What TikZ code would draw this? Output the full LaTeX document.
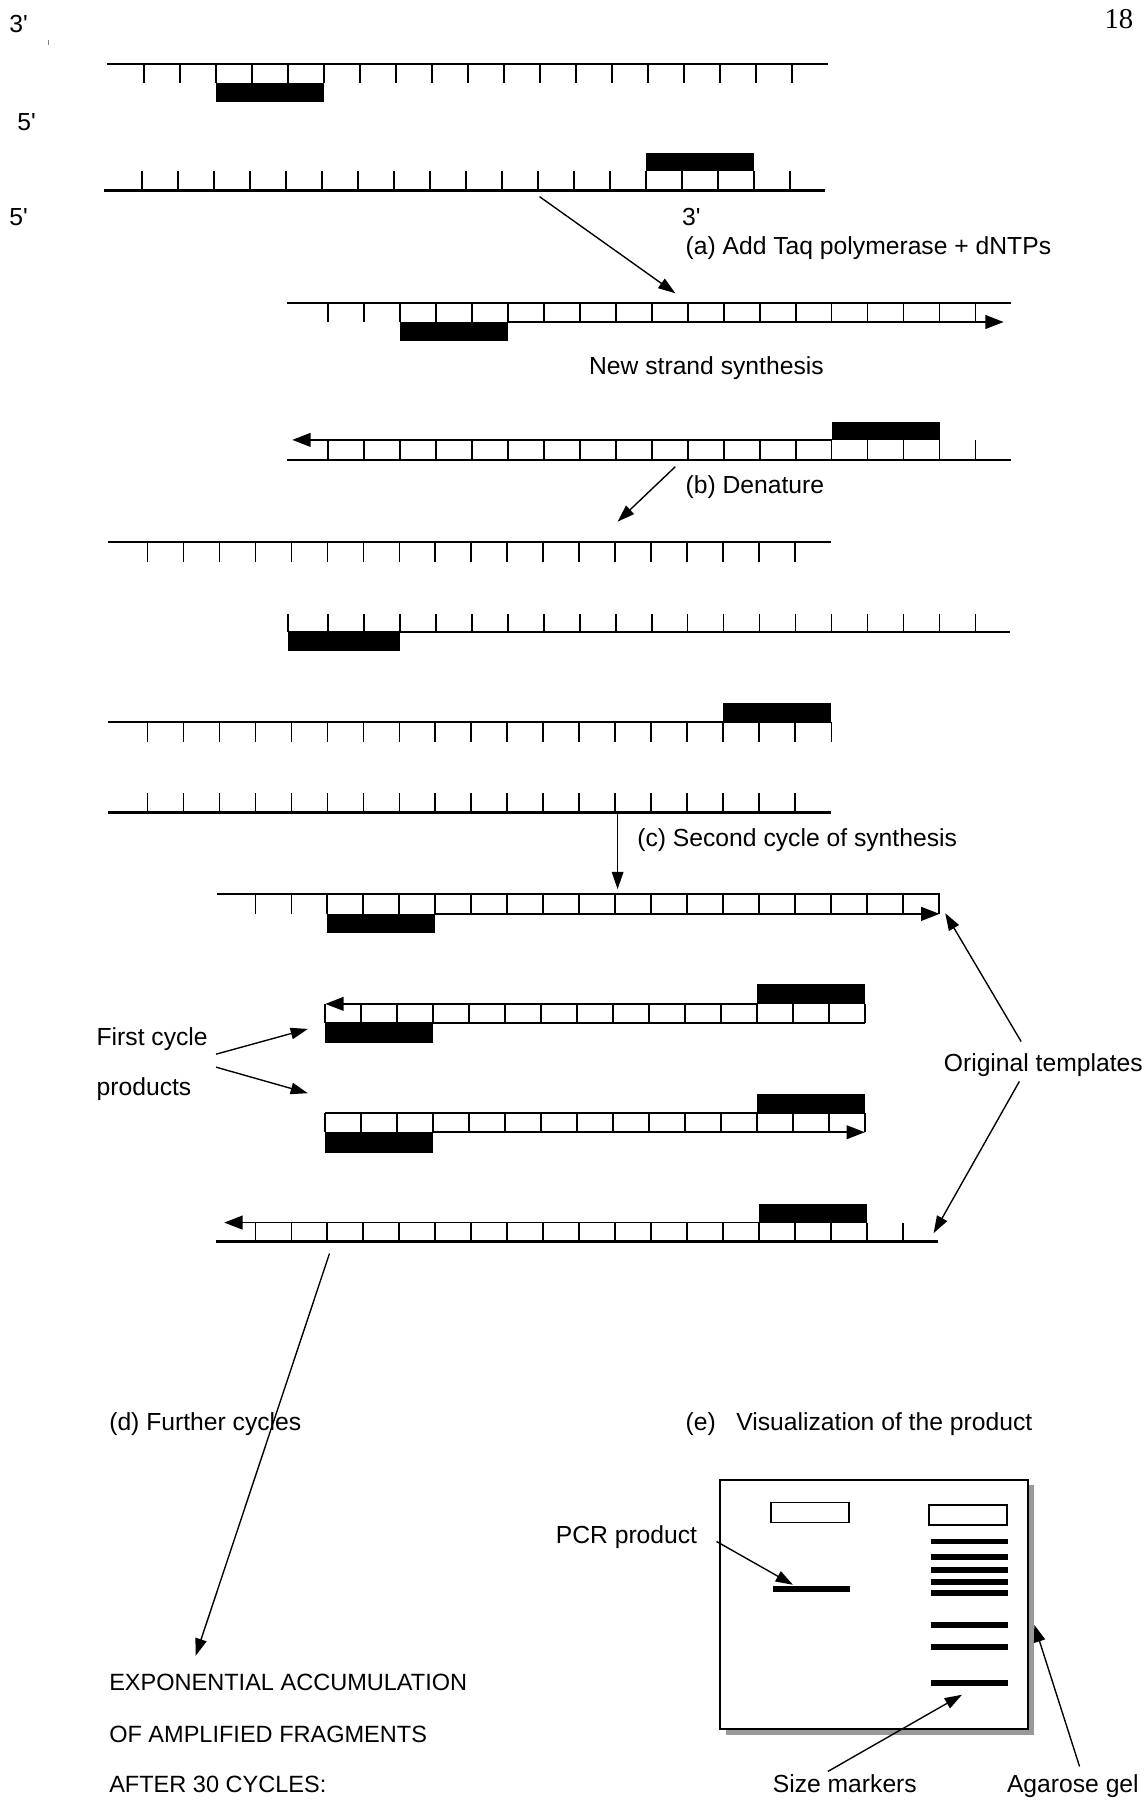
\documentclass[tikz,border=0pt]{standalone}
\usepackage{fontspec}
\setmainfont{Liberation Sans}[Ligatures=TeXOff]
\newfontfamily\serifnum{Liberation Serif}
\usetikzlibrary{arrows.meta}
\begin{document}
\begin{tikzpicture}[x=1pt,y=-1pt,
  strand/.style={line width=1.9pt},
  tck/.style={line width=1.5pt},
  newstr/.style={line width=1.5pt},
  primer/.style={fill=black},
  lbl/.style={anchor=base west, inner sep=0pt, font=\fontsize{21.5}{25}\selectfont},
  caps/.style={lbl, font=\fontsize{20.5}{24}\selectfont},
  ptr/.style={line width=1.2pt,-{Triangle[length=15pt,width=10pt]}},
  sarr/.style={line width=1.5pt,-{Triangle[length=16pt,width=12pt]}},
  well/.style={draw, line width=1.3pt},
  band/.style={fill=black},
]
\useasboundingbox (0,0) rectangle (999,1568);

% ---------------- labels ----------------
\node[lbl] (l3a) at (8,28.5) {3'};
\node[anchor=base west, inner sep=0pt, font=\serifnum\fontsize{25}{29}\selectfont] (pg) at (962,25) {18};
\draw[line width=0.5pt, gray] (42.3,35) -- (42.3,39);
\node[lbl] (l5a) at (15,113.5) {5'};
\node[lbl] (l5b) at (8,196.5) {5'};
\node[lbl] (l3b) at (594,196) {3'};
\node[lbl] (la) at (597,221.5) {(a) Add Taq polymerase + dNTPs};
\node[lbl] (lnew) at (513,326) {New strand synthesis};
\node[lbl] (lb) at (597,429.5) {(b) Denature};
\node[lbl] (lc) at (555,737.5) {(c) Second cycle of synthesis};
\node[lbl] (lfc1) at (84,910.5) {First cycle};
\node[lbl] (lfc2) at (84,954) {products};
\node[lbl] (lot) at (822,933.5) {Original templates};
\node[lbl] (ld) at (95,1246.5) {(d) Further cycles};
\node[lbl] (le) at (597,1246.5) {(e)\hspace{12pt} Visualization of the product};
\node[lbl] (lpcr) at (484,1344.5) {PCR product};
\node[caps] (lx1) at (95,1472.5) {EXPONENTIAL ACCUMULATION};
\node[caps] (lx2) at (95,1517.5) {OF AMPLIFIED FRAGMENTS};
\node[caps] (lx3) at (95,1561.5) {AFTER 30 CYCLES:};
\node[lbl] (lsm) at (673,1561.5) {Size markers};
\node[lbl] (lag) at (877,1561.5) {Agarose gel};

% ---------------- row 1 ----------------
\draw[strand] (93,55.7) -- (721,55.7);
\foreach \k in {0,...,18} \draw[tck] ({125.7+31.33*\k},55.7) -- ++(0,16.8);
\fill[primer] (188.4,72.5) rectangle (282.4,88.5);

% ---------------- row 2 ----------------
\draw[strand] (90.7,166) -- (718.3,166);
\foreach \k in {0,...,18} \draw[tck] ({124+31.33*\k},149.3) -- (124+31.33*\k,166);
\fill[primer] (562.6,133.3) rectangle (656.6,149.3);

% ---------------- row 3 ----------------
\draw[strand] (250.3,263.6) -- (880.8,263.6);
\foreach \k in {0,...,18} \draw[tck] ({285.8+31.33*\k},263.6) -- ++(0,16.9);
\fill[primer] (348.5,280.5) rectangle (442.5,296.7);
\coordinate (n3s) at (442.5,280.5);
\coordinate (n3e) at (874.3,280.5);
\draw[sarr] (n3s) -- (n3e);

% ---------------- row 4 ----------------
\draw[strand] (250.3,400.7) -- (880.8,400.7);
\foreach \k in {0,...,18} \draw[tck] ({285.8+31.33*\k},383.2) -- (285.8+31.33*\k,400.7);
\fill[primer] (724.4,367.5) rectangle (818.4,383.2);
\coordinate (n4s) at (724.4,383.2);
\coordinate (n4e) at (254.6,383.2);
\draw[sarr] (n4s) -- (n4e);

% ---------------- row 5 ----------------
\draw[strand] (94,471.8) -- (724.3,471.8);
\foreach \k in {0,...,18} \draw[tck] ({128.6+31.33*\k},471.8) -- ++(0,17.4);

% ---------------- row 6 ----------------
\draw[strand] (250.7,550.2) -- (880,550.2);
\draw[tck] (250.7,535) -- (250.7,550.2);
\foreach \k in {0,...,18} \draw[tck] ({285.7+31.33*\k},535) -- (285.7+31.33*\k,550.2);
\fill[primer] (250.7,550.2) rectangle (348.4,566.7);

% ---------------- row 7 ----------------
\draw[strand] (94,628.6) -- (724.3,628.6);
\foreach \k in {0,...,18} \draw[tck] ({128.6+31.33*\k},628.6) -- ++(0,17.4);
\draw[tck] (724.3,628.6) -- ++(0,17.4);
\fill[primer] (629.9,612.3) rectangle (724.3,628.6);

% ---------------- row 8 ----------------
\draw[strand] (94,707.8) -- (724.3,707.8);
\foreach \k in {0,...,18} \draw[tck] ({128.6+31.33*\k},691) -- (128.6+31.33*\k,707.8);

% ---------------- row 9 ----------------
\draw[strand] (188.8,779) -- (818.4,779);
\foreach \k in {0,...,19} \draw[tck] ({222.5+31.33*\k},779) -- ++(0,17.1);
\fill[primer] (285.2,796.1) rectangle (379.2,812.4);
\coordinate (n9s) at (379.2,796.1);
\coordinate (n9e) at (818.4,796.1);
\draw[sarr] (n9s) -- (n9e);

% ---------------- row 10 ----------------
\draw[strand] (283.4,891.3) -- (753.4,891.3);
\foreach \k in {0,...,15} \draw[tck] ({283.4+31.33*\k},874.5) -- (283.4+31.33*\k,891.3);
\fill[primer] (659.4,857) rectangle (753.4,874.5);
\fill[primer] (283.4,891.3) rectangle (377.4,908.2);
\coordinate (n10s) at (659.4,874.5);
\coordinate (n10e) at (283.4,874.5);
\draw[sarr] (n10s) -- (n10e);

% ---------------- row 11 ----------------
\draw[strand] (283.4,969.7) -- (753.4,969.7);
\foreach \k in {0,...,15} \draw[tck] ({283.4+31.33*\k},969.7) -- (283.4+31.33*\k,986.3);
\fill[primer] (659.4,953) rectangle (753.4,969.7);
\fill[primer] (283.4,986.3) rectangle (377.4,1004);
\coordinate (n11s) at (377.4,986.3);
\coordinate (n11e) at (753.4,986.3);
\draw[sarr] (n11s) -- (n11e);

% ---------------- row 12 ----------------
\draw[strand] (188.2,1081.5) -- (817.5,1081.5);
\foreach \k in {0,...,18} \draw[tck] ({222.5+31.33*\k},1065) -- (222.5+31.33*\k,1081.5);
\fill[primer] (661.1,1049) rectangle (755.1,1065);
\coordinate (n12s) at (661.1,1065);
\coordinate (n12e) at (195.3,1065);
\draw[sarr] (n12s) -- (n12e);

% ---------------- step arrows ----------------
\coordinate (aS) at (470,171.3);  \coordinate (aE) at (588.3,255.5);
\coordinate (bS) at (588.3,406.5); \coordinate (bE) at (538,454.4);
\coordinate (cS) at (538,707.8);   \coordinate (cE) at (538,774.6);
\coordinate (dS) at (287,1092);    \coordinate (dE) at (170.4,1442.4);
\draw[ptr] (aS) -- (aE);
\draw[ptr] (bS) -- (bE);
\draw[ptr] (cS) -- (cE);
\draw[ptr] (dS) -- (dE);

% first cycle products
\coordinate (f1S) at (188.2,918.3); \coordinate (f1E) at (268.2,896.3);
\coordinate (f2S) at (188.2,929.6); \coordinate (f2E) at (268.2,952.3);
\draw[ptr] (f1S) -- (f1E);
\draw[ptr] (f2S) -- (f2E);

% original templates
\coordinate (o1S) at (889.5,907.3); \coordinate (o1E) at (823.4,795.5);
\coordinate (o2S) at (888,942);     \coordinate (o2E) at (813.3,1074.2);
\draw[ptr] (o1S) -- (o1E);
\draw[ptr] (o2S) -- (o2E);

% ---------------- gel ----------------
\fill[gray!80] (632,1294) rectangle (900.5,1511);
\draw[line width=1.6pt, fill=white] (627,1289.1) rectangle (895.5,1506.2);
\draw[well] (671.6,1308.8) rectangle (739.6,1326.2);
\draw[well] (809.2,1310.8) rectangle (877.2,1328.3);
\fill[band] (673.4,1382) rectangle (740.4,1387.2);
\foreach \y in {1342.8,1356.7,1367.5,1377.9,1387.8,1415.4,1434.8,1465.9}
  \fill[band] (811.4,\y-2.6) rectangle (878.3,\y+2.6);
\coordinate (pS) at (624.2,1342.8); \coordinate (pE) at (690.7,1380.5);
\coordinate (sS) at (721.2,1543.1); \coordinate (sE) at (838,1476.3);
\coordinate (gS) at (940.4,1538.8); \coordinate (gE) at (901,1415.4);
\draw[ptr] (pS) -- (pE);
\draw[ptr] (sS) -- (sE);
\draw[ptr] (gS) -- (gE);
\end{tikzpicture}
\end{document}
